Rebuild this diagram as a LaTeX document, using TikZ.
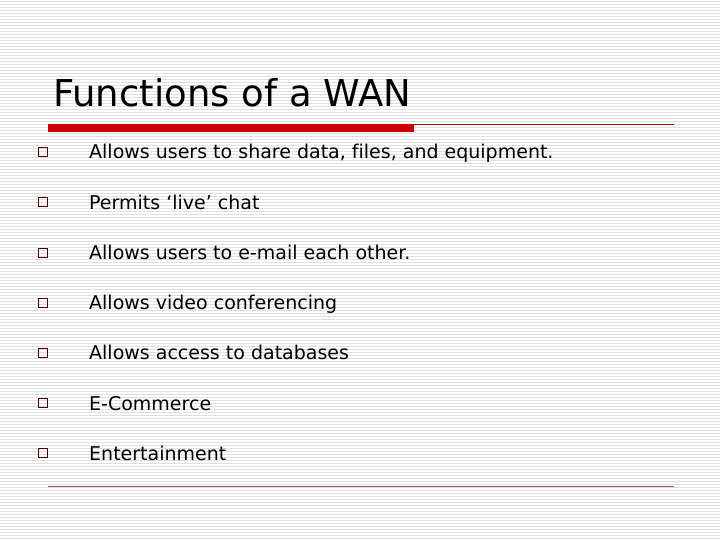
\documentclass[tikz,border=0pt]{standalone}
\usepackage{fontspec}
\setmainfont[Ligatures=NoCommon]{DejaVu Sans}
\begin{document}
\begin{tikzpicture}[x=1pt,y=-1pt,
  bul/.style={draw=black!70!red,line width=0.8pt,minimum size=9pt,inner sep=0pt},
  itm/.style={anchor=base west,inner sep=0pt,font=\fontsize{19}{22}\selectfont}]
\fill[white] (0,0) rectangle (720,540);
\useasboundingbox (0,0) rectangle (720,540);
\foreach \y in {1.5,4.5,...,540} \draw[gray!25,line width=0.9pt] (0,\y) -- (720,\y);
\node[anchor=base west,inner sep=0pt,font=\fontsize{37}{44}\selectfont] (title) at (53,107) {Functions of a WAN};
\fill[red!80!black] (48,124) rectangle (414,132);
\draw[red!70!black,line width=0.6pt] (414,124) -- (674,124);
\draw[red!60!black!70,line width=0.8pt] (48,486) -- (674,486);
\foreach \t [count=\i] in {Allows users to share data{,} files{,} and equipment.,Permits ‘live’ chat,Allows users to e-mail each other.,Allows video conferencing,Allows access to databases,E-Commerce,Entertainment}{
  \pgfmathsetmacro\yy{152+50.2*(\i-1)}
  \node[bul] (b\i) at (43,\yy) {};
  \node[itm] (t\i) at (89,\yy+7) {\t};
}
\end{tikzpicture}
\end{document}
